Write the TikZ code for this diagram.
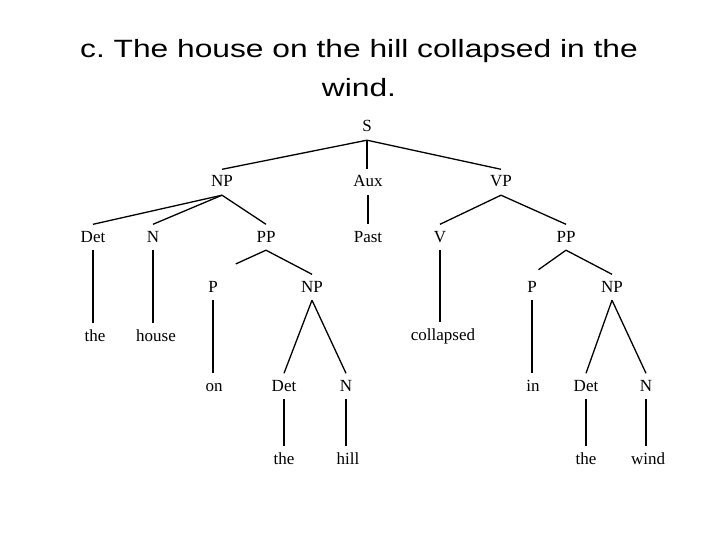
\documentclass[tikz,border=0pt]{standalone}
\usepackage{fontspec}
\setmainfont{Liberation Serif}
\newfontfamily\titlefont{Liberation Sans}
\usetikzlibrary{positioning}

\begin{document}
\begin{tikzpicture}[
    x=1pt, y=-1pt,
    cat/.style={anchor=base, inner xsep=2pt, inner ysep=6pt, text height=11.5pt, text depth=2pt, font=\fontsize{17}{20}\selectfont},
    tree_edge/.style={line width=1.3pt},
    title_line/.style={anchor=base, inner sep=0pt, font=\titlefont\fontsize{25}{30}\selectfont}
]
    \useasboundingbox (0,0) rectangle (720,540);

    % Title
    \node[title_line] (t1) at (359, 58) {\scalebox{1.27}[1]{c.\ The house on the hill collapsed in the}};
    \node[title_line] (t2) at (359, 97) {\scalebox{1.27}[1]{wind.}};

    % Top level: S -> NP Aux VP
    \node[cat] (s) at (367, 132) {S};
    \node[cat] (np1) at (222, 187) {NP};
    \node[cat] (aux) at (368, 187) {Aux};
    \node[cat] (vp) at (501, 187) {VP};

    \draw[tree_edge] (s.south) -- (np1.north);
    \draw[tree_edge] (s.south) -- (s.south |- aux.north);
    \draw[tree_edge] (s.south) -- (vp.north);

    % Subject NP: Det N PP
    \node[cat] (det1) at (93, 242) {Det};
    \node[cat] (n1) at (153, 242) {N};
    \node[cat] (pp1) at (266, 242) {PP};
    \node[cat] (the1) at (95, 341) {the};
    \node[cat] (house) at (156, 341) {house};

    \draw[tree_edge] (np1.south) -- (det1.north);
    \draw[tree_edge] (np1.south) -- (n1.north);
    \draw[tree_edge] (np1.south) -- (pp1.north);
    \draw[tree_edge] (det1.south) -- (det1.south |- the1.north);
    \draw[tree_edge] (n1.south) -- (n1.south |- house.north);

    % PP: on the hill
    \node[cat] (p1) at (213, 292) {P};
    \node[cat] (np2) at (312, 292) {NP};
    \node[cat] (on) at (214, 391) {on};
    \node[cat] (det2) at (284, 391) {Det};
    \node[cat] (n2) at (346, 391) {N};
    \node[cat] (the2) at (284, 464) {the};
    \node[cat] (hill) at (348, 464) {hill};

    \draw[tree_edge, shorten >=25pt] (pp1.south) -- (p1.north);
    \draw[tree_edge] (pp1.south) -- (np2.north);
    \draw[tree_edge] (p1.south) -- (p1.south |- on.north);
    \draw[tree_edge] (np2.south) -- (det2.north);
    \draw[tree_edge] (np2.south) -- (n2.north);
    \draw[tree_edge] (det2.south) -- (det2.south |- the2.north);
    \draw[tree_edge] (n2.south) -- (n2.south |- hill.north);

    % Aux
    \node[cat] (past) at (368, 242) {Past};
    \draw[tree_edge] (aux.south) -- (aux.south |- past.north);

    % VP: V PP
    \node[cat] (v) at (440, 242) {V};
    \node[cat] (pp2) at (566, 242) {PP};
    \node[cat] (collapsed) at (443, 340) {collapsed};

    \draw[tree_edge] (vp.south) -- (v.north);
    \draw[tree_edge] (vp.south) -- (pp2.north);
    \draw[tree_edge] (v.south) -- (v.south |- collapsed.north);

    % PP: in the wind
    \node[cat] (p2) at (532, 292) {P};
    \node[cat] (np3) at (612, 292) {NP};
    \node[cat] (in) at (533, 391) {in};
    \node[cat] (det3) at (586, 391) {Det};
    \node[cat] (n3) at (646, 391) {N};
    \node[cat] (the3) at (586, 464) {the};
    \node[cat] (wind) at (648, 464) {wind};

    \draw[tree_edge, shorten >=8pt] (pp2.south) -- (p2.north);
    \draw[tree_edge] (pp2.south) -- (np3.north);
    \draw[tree_edge] (p2.south) -- (p2.south |- in.north);
    \draw[tree_edge] (np3.south) -- (det3.north);
    \draw[tree_edge] (np3.south) -- (n3.north);
    \draw[tree_edge] (det3.south) -- (det3.south |- the3.north);
    \draw[tree_edge] (n3.south) -- (n3.south |- wind.north);
\end{tikzpicture}
\end{document}
